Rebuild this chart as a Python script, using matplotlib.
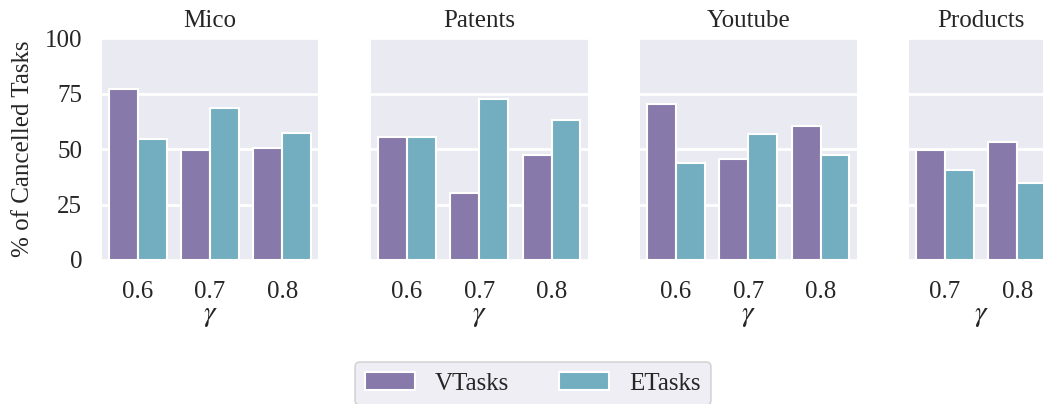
import matplotlib
matplotlib.use("Agg")
import matplotlib.pyplot as plt
import numpy as np

# Share of cancelled tasks (%) per dataset and gamma threshold
datasets = ["Mico", "Patents", "Youtube", "Products"]
gammas = {
    "Mico": ["0.6", "0.7", "0.8"],
    "Patents": ["0.6", "0.7", "0.8"],
    "Youtube": ["0.6", "0.7", "0.8"],
    "Products": ["0.7", "0.8"],
}
vtasks = {
    "Mico": [77.0, 49.8, 50.4],
    "Patents": [55.3, 30.2, 47.5],
    "Youtube": [70.4, 45.7, 60.3],
    "Products": [49.5, 53.4],
}
etasks = {
    "Mico": [54.4, 68.4, 57.1],
    "Patents": [55.6, 72.5, 63.3],
    "Youtube": [43.6, 56.7, 47.5],
    "Products": [40.7, 34.7],
}
series_names = ["VTasks", "ETasks"]
colors = ["#8779AA", "#72AEC0"]
yticks = [0, 25, 50, 75, 100]

FS = 18

plt.rcParams.update({
    "font.family": ["Liberation Serif", "DejaVu Serif"],
    "mathtext.fontset": "stix",
    "font.size": FS,
    "text.color": "#262626",
    "axes.labelcolor": "#262626",
    "xtick.color": "#262626",
    "ytick.color": "#262626",
})

W, H = 1043, 404
fig = plt.figure(figsize=(W / 100, H / 100), dpi=100)

unit = 216.6 / 3.0  # pixels per category slot
lefts = {"Mico": 101.7, "Patents": 371.0, "Youtube": 640.0, "Products": 909.0}
top_px, bottom_px = 38.3, 260.0

handles = None
for i, name in enumerate(datasets):
    n = len(gammas[name])
    left = lefts[name]
    ax = fig.add_axes([left / W, (H - bottom_px) / H, n * unit / W,
                       (bottom_px - top_px) / H])
    ax.set_facecolor("#EAEAF2")
    for s in ax.spines.values():
        s.set_visible(False)
    ax.set_axisbelow(True)
    ax.yaxis.grid(True, color="white", linewidth=2.0)
    ax.xaxis.grid(False)

    x = np.arange(n)
    w = 0.4
    b1 = ax.bar(x - w / 2, vtasks[name], width=w, color=colors[0],
                edgecolor="white", linewidth=1.5, label=series_names[0])
    b2 = ax.bar(x + w / 2, etasks[name], width=w, color=colors[1],
                edgecolor="white", linewidth=1.5, label=series_names[1])
    handles = [b1, b2]

    ax.set_xlim(-0.5, n - 0.5)
    ax.set_ylim(0, 100)
    ax.set_yticks(yticks)
    ax.set_xticks(x)
    ax.set_xticklabels(gammas[name])
    ax.tick_params(axis="both", length=0, labelsize=FS)
    ax.tick_params(axis="x", pad=15)
    ax.tick_params(axis="y", pad=14)
    ax.set_xlabel(r"$\gamma$", fontsize=21, labelpad=0)
    ax.set_title(name, fontsize=FS, pad=8)
    if i == 0:
        ax.set_ylabel("% of Cancelled Tasks", fontsize=FS, labelpad=8)
    else:
        ax.set_yticklabels([])

leg = fig.legend(handles, series_names, loc="upper left",
                 bbox_to_anchor=(355 / W, 1 - 362.3 / H), ncol=2,
                 fontsize=FS, frameon=True, fancybox=True,
                 handlelength=2.0, handleheight=0.7, handletextpad=0.8,
                 columnspacing=2.0, borderpad=0.4, borderaxespad=0)
leg.get_frame().set_facecolor("#EAEAF2")
leg.get_frame().set_edgecolor("#CCCCCC")
leg.get_frame().set_linewidth(1.2)

fig.savefig("out.png", dpi=100)
